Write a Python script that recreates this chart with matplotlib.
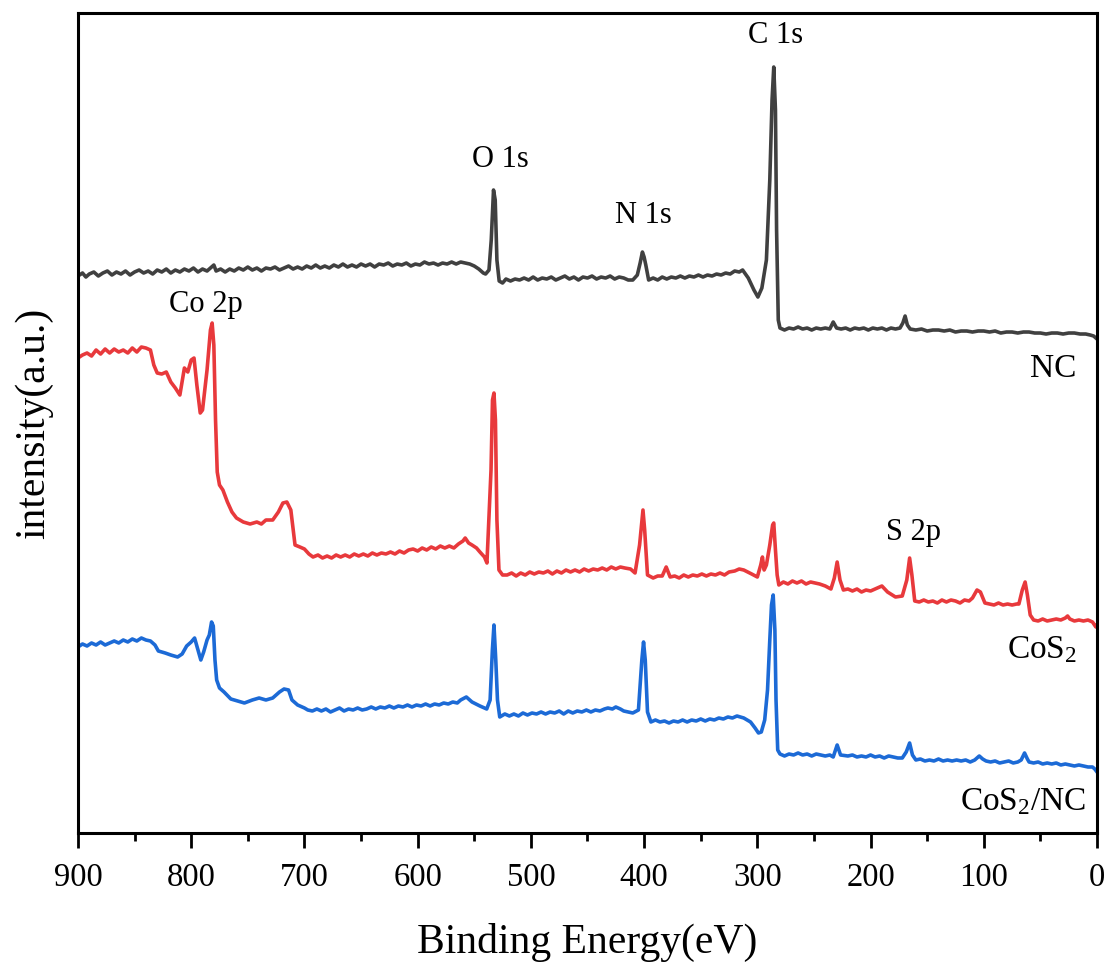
import numpy as np
import matplotlib
matplotlib.use("Agg")
import matplotlib.pyplot as plt
from matplotlib.ticker import MultipleLocator

plt.rcParams['font.family'] = ['Liberation Serif', 'DejaVu Serif']
plt.rcParams['mathtext.fontset'] = 'custom'
plt.rcParams['mathtext.rm'] = 'Liberation Serif'
plt.rcParams['mathtext.it'] = 'Liberation Serif:italic'

# XPS survey spectra: (binding energy eV, stacked intensity a.u.)
nc = [(900, 557), (896, 560), (893, 556), (890, 559), (886, 561), (882, 557), (878, 560), (874, 562),
      (870, 558), (866, 561), (862, 559), (858, 562), (854, 558), (850, 561), (846, 563), (842, 560),
      (838, 562), (834, 559), (830, 563), (826, 561), (822, 564), (818, 560), (814, 563), (810, 561),
      (806, 564), (802, 562), (798, 565), (794, 561), (790, 564), (786, 562), (782, 566), (780, 568),
      (778, 562), (774, 564), (770, 561), (766, 564), (762, 562), (758, 565), (754, 563), (750, 566),
      (746, 563), (742, 565), (738, 562), (734, 565), (730, 564), (726, 566), (722, 563), (718, 565),
      (714, 567), (710, 564), (706, 566), (702, 564), (698, 567), (694, 565), (690, 568), (686, 565),
      (682, 567), (678, 565), (674, 568), (670, 566), (666, 569), (662, 566), (658, 568), (654, 566),
      (650, 569), (646, 567), (642, 569), (638, 566), (634, 569), (630, 568), (626, 570), (622, 567),
      (618, 569), (614, 568), (610, 570), (606, 567), (602, 569), (598, 568), (594, 571), (590, 569),
      (586, 570), (582, 568), (578, 570), (574, 569), (570, 571), (566, 569), (562, 571), (558, 570),
      (554, 569), (550, 567), (546, 564), (542, 560), (540, 559), (537, 563), (535, 593), (533, 643),
      (531.5, 633), (530, 573), (528, 552), (525, 550), (522, 554), (518, 552), (514, 554), (510, 553),
      (506, 555), (502, 553), (498, 556), (494, 553), (490, 555), (486, 554), (482, 556), (478, 553),
      (474, 555), (470, 557), (466, 554), (462, 556), (458, 553), (454, 556), (450, 555), (446, 557),
      (442, 554), (438, 556), (434, 555), (430, 557), (426, 554), (422, 556), (418, 555), (414, 553),
      (410, 553), (406, 558), (403.5, 570), (401.5, 581), (400, 576), (398.5, 568), (396, 553),
      (392, 555), (388, 553), (384, 556), (380, 554), (376, 556), (372, 555), (368, 557), (364, 555),
      (360, 557), (356, 556), (352, 558), (348, 556), (344, 558), (340, 557), (336, 559), (332, 558),
      (328, 560), (324, 559), (320, 562), (316, 561), (313, 563), (308, 555), (303, 543), (299.5, 536),
      (296, 545), (292, 573), (289, 653), (287, 733), (285.5, 766), (284, 723), (283, 603),
      (281.5, 513), (280, 505), (276, 503), (272, 505), (268, 504), (264, 506), (260, 504), (256, 505),
      (252, 503), (248, 505), (244, 504), (240, 505), (236, 504), (233, 511), (230, 505), (226, 504),
      (222, 505), (218, 503), (214, 505), (210, 504), (206, 505), (202, 503), (198, 505), (194, 504),
      (190, 505), (186, 503), (182, 505), (178, 504), (174, 505), (171.5, 510), (169.5, 517),
      (167.5, 508), (165, 504), (160, 503), (155, 504), (150, 502), (145, 503), (140, 503), (135, 502),
      (130, 503), (125, 501), (120, 502), (115, 502), (110, 501), (105, 502), (100, 502), (95, 501),
      (90, 502), (85, 500), (80, 501), (75, 501), (70, 500), (65, 501), (60, 501), (55, 500), (50, 500),
      (45, 499), (40, 500), (35, 500), (30, 499), (25, 500), (20, 500), (15, 499), (10, 499), (6, 498),
      (3, 497), (1, 495), (0, 494)]

cos2 = [(900, 475), (896, 478), (892, 480), (888, 477), (884, 483), (880, 479), (876, 484), (872, 480),
        (868, 484), (864, 481), (860, 483), (856, 480), (852, 485), (848, 481), (844, 486), (840, 485),
        (836, 483), (833, 468), (830, 460), (826, 459), (822, 461), (818, 451), (814, 445), (810, 438),
        (806, 465), (803, 461), (800, 473), (797.5, 475), (795, 448), (792, 420), (790, 423), (786, 463),
        (783, 503), (781.5, 510), (780, 488), (778.5, 413), (777, 361), (775, 348), (772, 343),
        (768, 331), (764, 321), (760, 315), (754, 311), (748, 309), (742, 311), (738, 309), (734, 313),
        (728, 313), (723, 321), (719, 330), (715.5, 331), (712, 323), (708.3, 288), (704, 286),
        (700, 284), (696, 279), (692.4, 276), (688, 278), (684, 275), (680, 277), (676, 275), (672, 278),
        (668, 276), (664, 278), (660, 276), (656, 279), (652, 277), (648, 279), (644, 277), (640, 280),
        (636, 278), (632, 280), (628, 279), (624, 281), (620, 279), (616, 282), (612, 280), (608, 283),
        (604, 284), (600, 282), (596, 285), (592, 283), (588, 286), (584, 284), (580, 287), (576, 285),
        (572, 287), (568, 285), (564, 289), (560, 292), (558, 295), (555, 290), (552, 288), (548, 285),
        (545, 281), (541, 276), (538.8, 270), (535.2, 363), (533.9, 433), (532.6, 440), (531.3, 413),
        (530, 313), (528.2, 263), (525, 258), (521, 258), (517, 260), (513, 257), (509, 260),
        (505, 258), (501, 261), (497, 259), (493, 261), (489, 260), (485, 262), (481, 259), (477, 262),
        (473, 260), (469, 263), (465, 261), (461, 263), (457, 261), (453, 264), (449, 262), (445, 264),
        (441, 263), (437, 265), (433, 263), (429, 266), (425, 264), (421, 266), (417, 265), (412, 264),
        (408, 260), (404, 288), (401, 323), (399.5, 303), (397, 258), (392, 255), (388, 257),
        (384, 257), (380.5, 266), (377, 256), (373, 257), (369, 255), (365, 258), (361, 256),
        (357, 258), (353, 257), (349, 259), (345, 257), (341, 259), (337, 258), (333, 260), (329, 258),
        (325, 261), (320, 262), (316, 264), (312, 263), (305, 259), (300, 256), (297, 268),
        (295.5, 276), (294, 263), (292, 268), (289, 288), (286.5, 308), (285.5, 310), (284, 283),
        (282.5, 258), (281, 248), (277, 251), (273, 249), (269, 252), (265, 250), (261, 252),
        (257, 249), (253, 251), (249, 250), (245, 249), (240, 247), (235, 244), (232, 255),
        (229.5, 271), (227, 253), (224, 243), (220, 244), (216, 242), (212, 244), (208, 241),
        (204, 243), (200, 242), (196, 244), (190, 247), (185, 241), (178, 236), (172, 237), (168, 253),
        (165.5, 275), (163.5, 258), (161, 232), (157, 231), (153, 233), (149, 231), (145, 232),
        (141, 230), (137, 233), (133, 231), (129, 233), (125, 232), (121, 230), (117, 233), (113, 232),
        (110, 235), (106, 243), (103, 241), (99, 230), (95, 229), (91, 228), (87, 230), (83, 228),
        (79, 229), (75, 228), (71, 229), (69, 229), (66, 243), (63.5, 251), (61.5, 238), (59, 218),
        (56, 213), (52, 212), (48, 214), (44, 212), (40, 213), (36, 214), (32, 213), (28, 215),
        (26, 217), (24, 214), (20, 212), (16, 213), (12, 212), (8, 213), (4, 211), (1, 206), (0, 208)]

cos2_nc = [(900, 186), (896, 189), (892, 187), (888, 190), (884, 188), (880, 191), (876, 188), (872, 190),
           (868, 192), (864, 190), (860, 193), (856, 191), (852, 194), (848, 192), (844, 195), (840, 193),
           (836, 192), (832, 188), (829, 182), (823, 180), (818, 178), (812, 176), (808, 179), (804, 187),
           (800, 191), (797, 195), (794, 183), (791.5, 173), (789, 181), (786, 193), (784, 198),
           (782, 211), (780.5, 207), (779, 173), (777.5, 153), (775, 145), (771, 141), (765, 134),
           (759, 132), (753, 130), (746, 133), (740, 135), (734, 133), (728, 135), (722, 141), (718, 144),
           (714, 143), (711, 133), (706, 128), (700, 125), (697, 123), (693, 122), (689, 124), (685, 122),
           (681, 124), (677, 121), (673, 123), (669, 125), (665, 122), (661, 124), (657, 123), (653, 125),
           (649, 123), (645, 124), (641, 126), (637, 124), (633, 126), (629, 125), (625, 127), (621, 125),
           (617, 127), (613, 126), (609, 128), (605, 126), (601, 128), (597, 127), (593, 129), (589, 127),
           (585, 129), (581, 128), (577, 130), (573, 129), (569, 131), (565, 130), (562, 133), (557, 136),
           (552, 131), (545, 127), (539, 124), (536, 133), (534, 183), (532.6, 208), (531, 173),
           (529.5, 133), (527.5, 116), (523, 119), (519, 117), (515, 119), (511, 117), (507, 120),
           (503, 118), (499, 120), (495, 119), (491, 121), (487, 119), (483, 121), (479, 120), (475, 122),
           (471, 119), (467, 122), (463, 120), (459, 122), (455, 121), (451, 123), (447, 121), (443, 123),
           (439, 122), (435, 124), (432, 125), (428, 124), (425, 126), (421, 124), (418, 122), (414, 121),
           (410, 120), (405, 123), (402, 173), (400.5, 191), (399, 173), (397, 121), (394, 111),
           (390, 113), (386, 111), (382, 112), (378, 110), (374, 112), (370, 111), (366, 113), (362, 111),
           (358, 113), (354, 112), (350, 114), (346, 112), (342, 114), (338, 113), (334, 115), (330, 114),
           (326, 116), (322, 115), (318, 117), (312, 115), (306, 111), (302, 105), (299, 100),
           (296.5, 101), (293.5, 113), (291, 143), (289, 193), (287.5, 228), (286, 238), (284.5, 203),
           (283.5, 133), (282, 83), (280, 79), (276, 77), (272, 79), (268, 78), (264, 80), (260, 78),
           (256, 79), (252, 77), (248, 79), (244, 78), (240, 77), (236, 78), (233, 76), (229.5, 88),
           (226.5, 78), (220, 77), (216, 78), (212, 76), (208, 77), (204, 76), (200, 78), (196, 76),
           (192, 77), (188, 75), (184, 77), (180, 76), (176, 75), (172, 75), (168.5, 81), (165.5, 90),
           (163, 78), (160, 73), (156, 74), (152, 72), (148, 73), (144, 72), (140, 74), (136, 72),
           (132, 73), (128, 72), (124, 73), (120, 72), (116, 73), (112, 71), (108, 73), (104, 77),
           (101, 74), (98, 72), (94, 71), (90, 72), (86, 70), (82, 71), (78, 72), (74, 70), (70, 71),
           (67, 73), (64, 80), (61.5, 74), (60, 71), (56, 70), (52, 71), (48, 69), (44, 70), (40, 69),
           (36, 70), (32, 68), (28, 69), (24, 68), (20, 67), (16, 68), (12, 67), (8, 66), (4, 66),
           (2, 64), (0, 61)]

peak_labels = ['C 1s', 'O 1s', 'N 1s', 'Co 2p', 'S 2p']
peak_pos = [(308, 790), (552, 666), (426, 610), (820, 521), (186, 293)]
sample_labels = ['NC', 'CoS$_2$', 'CoS$_2$/NC']
sample_pos = [(59, 456), (79.5, 175), (121, 23)]

colors = ['#404040', '#e8393c', '#1c6ad6']

fig = plt.figure(figsize=(11.09, 9.65), dpi=100)
ax = fig.add_axes([0.0703, 0.1368, 0.9189, 0.8497])

for spec, c in zip([nc, cos2, cos2_nc], colors):
    be, inten = zip(*spec)
    ax.plot(be, inten, color=c, lw=2.6)

for t, (x, y) in zip(peak_labels, peak_pos):
    ax.text(x, y, t, fontsize=22, ha='left', va='baseline')
for t, (x, y) in zip(sample_labels, sample_pos):
    ax.text(x, y, t, fontsize=24, ha='left', va='baseline')

ax.set_xlim(900, 0)
ax.set_ylim(0, 820)
ax.xaxis.set_major_locator(MultipleLocator(100))
ax.xaxis.set_minor_locator(MultipleLocator(50))
ax.set_yticks([])
ax.tick_params(axis='x', which='major', direction='out', length=11, width=2, labelsize=23.5, pad=10)
ax.tick_params(axis='x', which='minor', direction='out', length=5.5, width=2)
for s in ax.spines.values():
    s.set_linewidth(2.2)

ax.set_xlabel('Binding Energy(eV)', fontsize=30)
ax.xaxis.set_label_coords(0.5, -0.11)
ax.xaxis.label.set_va('top')
ax.set_ylabel('intensity(a.u.)', fontsize=30)
ax.yaxis.set_label_coords(-0.024, 0.5)

fig.savefig('out.png', dpi=100)
